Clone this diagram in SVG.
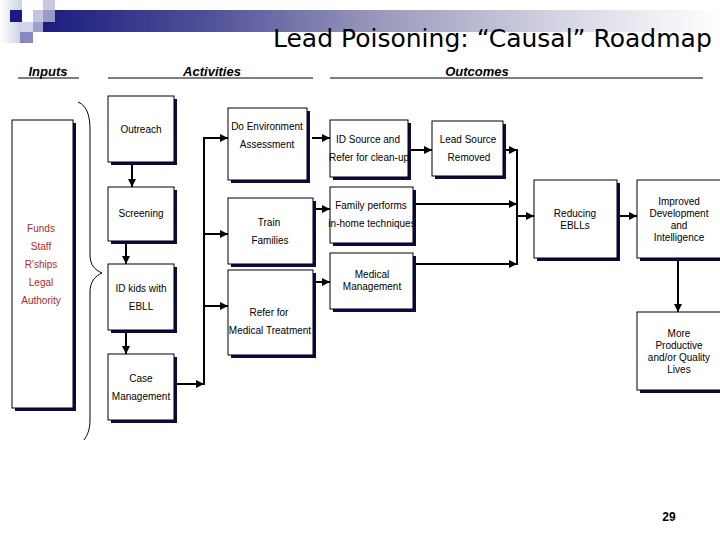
<svg xmlns="http://www.w3.org/2000/svg" width="720" height="540" viewBox="0 0 720 540">
<style>
.box{fill:#ffffff;stroke:#000000;stroke-width:1}
.sh{fill:#0a0a45}
.t{font-family:"Liberation Sans",Arial,sans-serif;font-size:10px;fill:#000000;text-anchor:middle}
.r{font-family:"Liberation Sans",Arial,sans-serif;font-size:10px;fill:#b02a2a;text-anchor:middle}
.h{font-family:"Liberation Sans",Arial,sans-serif;font-size:13px;font-weight:bold;font-style:italic;fill:#000000;text-anchor:middle}
.hl{stroke:#000000;stroke-width:1.2}
.c{fill:none;stroke:#000000;stroke-width:2}
.a{marker-end:url(#ah)}
</style>
<defs>
<linearGradient id="bar" x1="0" y1="0" x2="1" y2="0">
<stop offset="0" stop-color="#1c1c80"/>
<stop offset="0.25" stop-color="#52529a"/>
<stop offset="0.5" stop-color="#9a9abd"/>
<stop offset="0.8" stop-color="#dcdce8"/>
<stop offset="1" stop-color="#ffffff"/>
</linearGradient>
<linearGradient id="corner" x1="0" y1="0" x2="1" y2="0">
<stop offset="0" stop-color="#ffffff"/>
<stop offset="1" stop-color="#cfcfe6"/>
</linearGradient>
<marker id="ah" markerUnits="userSpaceOnUse" markerWidth="8" markerHeight="8" refX="8" refY="4" orient="auto">
<path d="M0,0 L8,4 L0,8 Z" fill="#000000"/>
</marker>
</defs>
<rect width="720" height="540" fill="#ffffff"/>
<g id="decor">
<rect x="0" y="0" width="22" height="43" fill="url(#corner)"/>
<rect x="43" y="10" width="677" height="22" fill="url(#bar)"/>
<rect x="10" y="10" width="12" height="12" fill="#1a1a80"/>
<rect x="43" y="0" width="12" height="10" fill="#c8c8e0"/>
<rect x="33" y="10" width="10" height="12" fill="#c4c4de"/>
<rect x="43" y="10" width="12" height="12" fill="#9a9ac8"/>
<rect x="22" y="22" width="11" height="10" fill="#d4d4ea"/>
<rect x="33" y="22" width="10" height="10" fill="#a0a0cc"/>
<rect x="20" y="32" width="13" height="11" fill="#8888c0"/>
</g>
<text id="title" x="273" y="47" font-family="'DejaVu Sans',Verdana,sans-serif" font-size="25" fill="#000000">Lead Poisoning: “Causal” Roadmap</text>
<g id="headers">
<text class="h" x="48" y="76">Inputs</text>
<line class="hl" x1="18" y1="78" x2="79" y2="78"/>
<text class="h" x="212" y="76">Activities</text>
<line class="hl" x1="108" y1="78" x2="313" y2="78"/>
<text class="h" x="477" y="76">Outcomes</text>
<line class="hl" x1="330" y1="78" x2="703" y2="78"/>
</g>
<g id="inputs">
<rect class="sh" x="15" y="123" width="61" height="288"/>
<rect class="box" x="12" y="120" width="61" height="288"/>
<text class="r" x="41" y="232">Funds</text>
<text class="r" x="41" y="250">Staff</text>
<text class="r" x="41" y="268">R'ships</text>
<text class="r" x="41" y="286">Legal</text>
<text class="r" x="41" y="304">Authority</text>
</g>
<g id="brace">
<path d="M78,102 C88,106 90,118 90,130 L90,255 C90,265 95,270 102,273 C95,276 90,282 90,292 L90,420 C90,430 87,436 84,440" fill="none" stroke="#000000" stroke-width="1"/>
</g>
<g id="outreach">
<rect class="sh" x="111" y="99" width="66" height="66"/>
<rect class="box" x="108" y="96" width="66" height="66"/>
<text class="t" x="141" y="133">Outreach</text>
</g>
<g id="screening">
<rect class="sh" x="111" y="190" width="66" height="54"/>
<rect class="box" x="108" y="187" width="66" height="54"/>
<text class="t" x="141" y="217">Screening</text>
</g>
<g id="idkids">
<rect class="sh" x="111" y="267" width="66" height="66"/>
<rect class="box" x="108" y="264" width="66" height="66"/>
<text class="t" x="141" y="292">ID kids with</text>
<text class="t" x="141" y="310">EBLL</text>
</g>
<g id="casemgmt">
<rect class="sh" x="111" y="357" width="66" height="66"/>
<rect class="box" x="108" y="354" width="66" height="66"/>
<text class="t" x="141" y="382">Case</text>
<text class="t" x="141" y="400">Management</text>
</g>
<g id="doenv">
<rect class="sh" x="231" y="111" width="79" height="72"/>
<rect class="box" x="228" y="108" width="79" height="72"/>
<text class="t" x="267" y="130">Do Environment</text>
<text class="t" x="267" y="148">Assessment</text>
</g>
<g id="train">
<rect class="sh" x="231" y="201" width="85" height="66"/>
<rect class="box" x="228" y="198" width="85" height="66"/>
<text class="t" x="269" y="226">Train</text>
<text class="t" x="270" y="244">Families</text>
</g>
<g id="refermed">
<rect class="sh" x="231" y="273" width="85" height="85"/>
<rect class="box" x="228" y="270" width="85" height="85"/>
<text class="t" x="269" y="316">Refer for</text>
<text class="t" x="270" y="334">Medical Treatment</text>
</g>
<g id="idsource">
<rect class="sh" x="333" y="123" width="78" height="57"/>
<rect class="box" x="330" y="120" width="78" height="57"/>
<text class="t" x="368" y="143">ID Source and</text>
<text class="t" x="369" y="161">Refer for clean-up</text>
</g>
<g id="family">
<rect class="sh" x="333" y="190" width="83" height="56"/>
<rect class="box" x="330" y="187" width="83" height="56"/>
<text class="t" x="371" y="209">Family performs</text>
<text class="t" x="372" y="227">in-home techniques</text>
</g>
<g id="medmgmt">
<rect class="sh" x="333" y="256" width="83" height="56"/>
<rect class="box" x="330" y="253" width="83" height="56"/>
<text class="t" x="372" y="278">Medical</text>
<text class="t" x="372" y="290">Management</text>
</g>
<g id="leadsource">
<rect class="sh" x="435" y="124" width="71" height="55"/>
<rect class="box" x="432" y="121" width="71" height="55"/>
<text class="t" x="468" y="143">Lead Source</text>
<text class="t" x="469" y="161">Removed</text>
</g>
<g id="reducing">
<rect class="sh" x="537" y="183" width="83" height="78"/>
<rect class="box" x="534" y="180" width="83" height="78"/>
<text class="t" x="575" y="217">Reducing</text>
<text class="t" x="575" y="229">EBLLs</text>
</g>
<g id="improved">
<rect class="sh" x="640" y="183" width="90" height="78"/>
<rect class="box" x="637" y="180" width="90" height="78"/>
<text class="t" x="679" y="205">Improved</text>
<text class="t" x="679" y="217">Development</text>
<text class="t" x="679" y="229">and</text>
<text class="t" x="679" y="241">Intelligence</text>
</g>
<g id="moreproductive">
<rect class="sh" x="640" y="315" width="90" height="78"/>
<rect class="box" x="637" y="312" width="90" height="78"/>
<text class="t" x="679" y="337">More</text>
<text class="t" x="679" y="349">Productive</text>
<text class="t" x="679" y="361">and/or Quality</text>
<text class="t" x="679" y="373">Lives</text>
</g>
<g id="connectors">
<line class="c a" x1="132" y1="165" x2="132" y2="187"/>
<line class="c a" x1="126" y1="244" x2="126" y2="264"/>
<line class="c a" x1="126" y1="333" x2="126" y2="354"/>
<line class="c a" x1="177" y1="384" x2="204" y2="384"/>
<line class="c" x1="204" y1="137" x2="204" y2="385"/>
<line class="c a" x1="203" y1="138" x2="228" y2="138"/>
<line class="c a" x1="203" y1="234" x2="228" y2="234"/>
<line class="c a" x1="203" y1="306" x2="228" y2="306"/>
<line class="c a" x1="312" y1="138" x2="330" y2="138"/>
<line class="c a" x1="411" y1="150" x2="432" y2="150"/>
<line class="c a" x1="316" y1="209" x2="330" y2="209"/>
<line class="c a" x1="316" y1="282" x2="330" y2="282"/>
<line class="c a" x1="506" y1="150" x2="517" y2="150"/>
<line class="c a" x1="416" y1="204" x2="517" y2="204"/>
<line class="c a" x1="416" y1="264" x2="517" y2="264"/>
<line class="c" x1="517" y1="149" x2="517" y2="265"/>
<line class="c a" x1="516" y1="216" x2="534" y2="216"/>
<line class="c a" x1="620" y1="216" x2="637" y2="216"/>
<line class="c a" x1="678" y1="261" x2="678" y2="312"/>
</g>
<text id="pagenum" x="669" y="521" font-family="'Liberation Sans',Arial,sans-serif" font-size="12" font-weight="bold" fill="#000000" text-anchor="middle">29</text>
</svg>
